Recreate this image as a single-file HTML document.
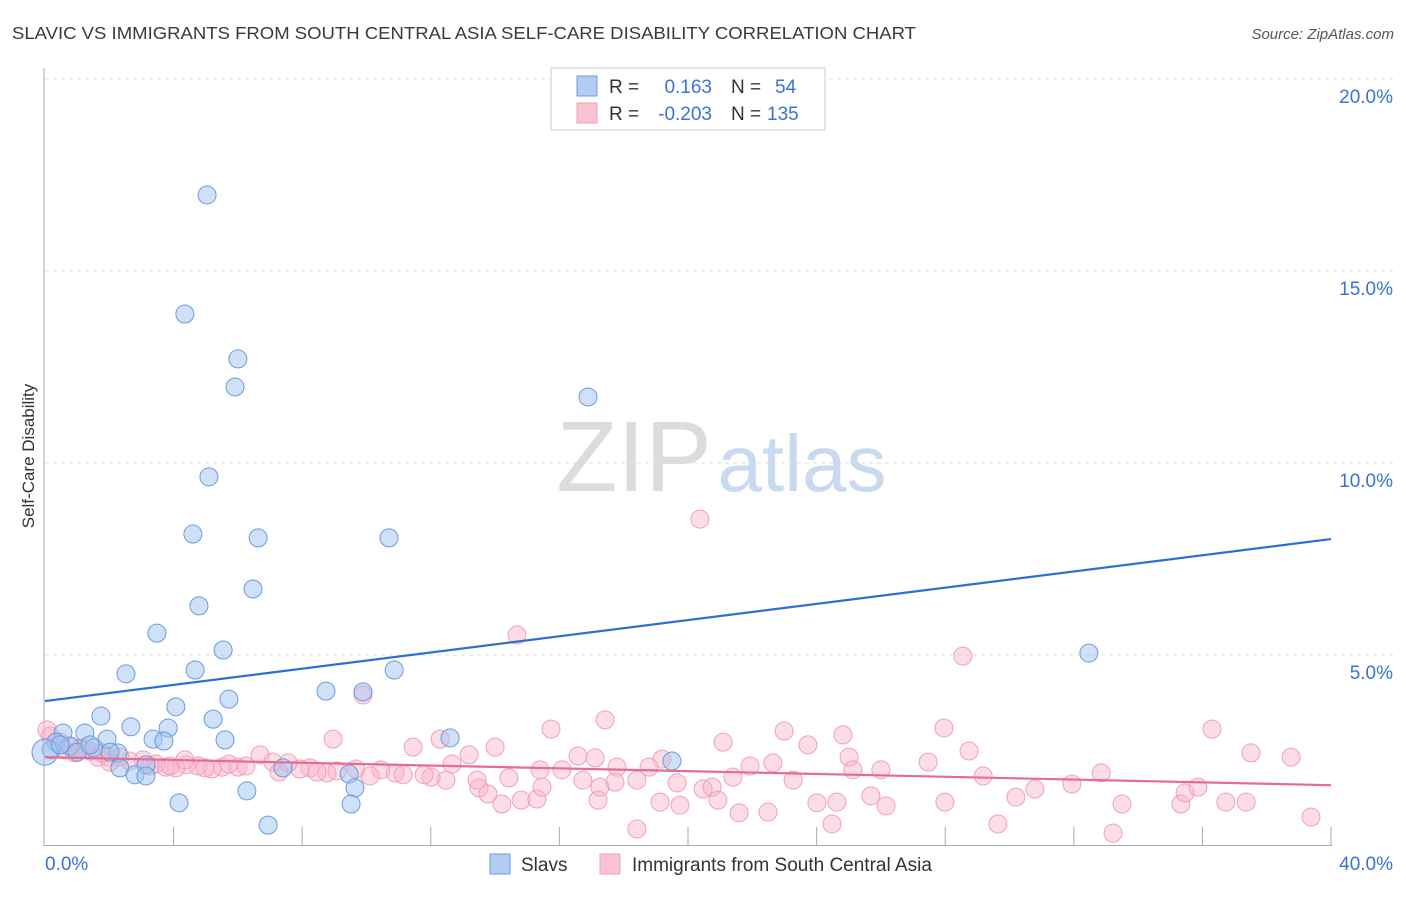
<!DOCTYPE html>
<html><head><meta charset="utf-8"><style>
body{margin:0;background:#fff;font-family:"Liberation Sans",sans-serif;}
svg text{font-family:"Liberation Sans",sans-serif;}
</style></head><body>
<svg id="chart" width="1406" height="892" xmlns="http://www.w3.org/2000/svg">
<text x="12" y="39" font-size="17.5" fill="#3a3a3a" textLength="904" lengthAdjust="spacingAndGlyphs">SLAVIC VS IMMIGRANTS FROM SOUTH CENTRAL ASIA SELF-CARE DISABILITY CORRELATION CHART</text>
<text x="1394" y="39" font-size="15" fill="#555" text-anchor="end" font-style="italic">Source: ZipAtlas.com</text>
<text transform="translate(34,456) rotate(-90)" font-size="17" fill="#333" text-anchor="middle">Self-Care Disability</text>
<g>
<text x="634" y="491" font-size="100" fill="#dcdcdc" font-family="Liberation Serif,serif" text-anchor="middle">ZIP</text>
<text x="802" y="491" font-size="80" fill="#c9daf0" text-anchor="middle">atlas</text>
</g>
<g id="grid"></g><g id="axes"></g><g id="pink"></g><g id="blue"></g><g id="lines"></g>
<g>
<rect x="551" y="68" width="274" height="62" fill="#fff" stroke="#ccc"/>
<rect x="577" y="76" width="20" height="20" fill="#b3cdf2" stroke="#6a9ae0"/>
<rect x="577" y="103" width="20" height="20" fill="#f8c3d3" stroke="#f0a0b8"/>
<text x="609" y="93" font-size="19" fill="#333">R =</text>
<text x="712" y="93" font-size="19" fill="#3a72d8" text-anchor="end">0.163</text>
<text x="731" y="93" font-size="19" fill="#333">N =</text>
<text x="775" y="93" font-size="19" fill="#3a72d8">54</text>
<text x="609" y="120" font-size="19" fill="#333">R =</text>
<text x="712" y="120" font-size="19" fill="#3a72d8" text-anchor="end">-0.203</text>
<text x="731" y="120" font-size="19" fill="#333">N =</text>
<text x="767" y="120" font-size="19" fill="#3a72d8">135</text>
</g>
<g>
<rect x="490" y="854" width="20" height="20" fill="#b3cdf2" stroke="#6a9ae0"/>
<text x="521" y="871" font-size="19" fill="#333">Slavs</text>
<rect x="600" y="854" width="20" height="20" fill="#f8c3d3" stroke="#f0a0b8"/>
<text x="632" y="871" font-size="19" fill="#333">Immigrants from South Central Asia</text>
</g>
</svg>
<script>
const yTicks=[5,10,15,20];
const yTickLabels=["5.0%","10.0%","15.0%","20.0%"];
const xTickVals=[0,4,8,12,16,20,24,28,32,36,40];
const blueX=[5.04,4.35,6.0,5.91,16.89,5.10,4.60,6.63,10.70,6.47,4.79,3.48,5.54,32.47,4.67,2.52,10.86,8.74,9.89,5.72,4.07,1.74,5.23,2.67,3.83,0.56,1.24,3.36,5.60,1.93,3.70,12.60,0.34,0.78,1.52,2.27,0.19,1.0,19.5,2.33,3.14,7.40,9.46,2.80,3.14,6.28,9.64,4.17,9.52,6.94,0.0,0.47,1.40,2.02];
const blueY=[16.98,13.88,12.71,11.98,11.72,9.64,8.15,8.05,8.05,6.72,6.28,5.57,5.13,5.05,4.61,4.51,4.61,4.06,4.04,3.85,3.65,3.41,3.33,3.13,3.10,2.97,2.97,2.81,2.79,2.81,2.76,2.84,2.73,2.63,2.58,2.45,2.53,2.47,2.24,2.06,2.14,2.06,1.90,1.88,1.85,1.46,1.54,1.15,1.12,0.57,2.47,2.66,2.66,2.47];
const pinkX=[20.37,14.68,28.55,9.89,17.42,27.96,36.30,15.74,22.99,24.82,21.09,8.96,23.73,28.74,37.51,38.76,25.01,27.47,11.45,14.0,12.29,13.19,16.58,17.11,19.19,22.64,32.85,31.94,30.79,29.18,26.0,25.13,21.93,21.40,18.79,17.79,16.08,15.40,14.43,12.47,13.50,12.01,10.89,10.45,9.67,8.77,8.24,7.93,6.69,7.09,7.56,6.0,5.51,5.19,4.76,4.39,4.07,3.76,3.45,3.05,2.64,2.33,1.99,1.65,1.40,1.09,0.78,0.47,0.16,0.06,0.62,0.93,1.24,1.77,2.02,3.27,3.89,4.35,4.98,5.72,6.25,7.28,8.46,9.08,10.11,11.14,11.79,12.66,13.44,13.78,14.21,14.81,15.30,15.46,16.73,17.26,17.73,18.41,19.13,19.66,19.75,20.47,20.75,20.93,21.59,22.49,23.27,24.01,24.48,24.63,25.69,26.16,27.99,29.64,30.20,33.50,33.22,35.33,35.46,35.86,36.73,37.36,39.38,18.41,17.20];
const pinkY=[8.54,5.52,4.97,3.96,3.31,3.10,3.07,3.07,3.02,2.92,2.73,2.81,2.66,2.50,2.45,2.34,2.34,2.21,2.60,2.60,2.81,2.40,2.37,2.32,2.29,2.19,1.93,1.64,1.51,1.85,2.01,2.01,2.11,1.82,2.08,2.08,2.01,2.01,1.80,1.74,1.54,1.82,1.93,2.01,2.03,1.93,2.06,2.03,2.40,2.21,2.19,2.08,2.08,2.03,2.11,2.14,2.06,2.08,2.16,2.27,2.24,2.34,2.34,2.34,2.50,2.58,2.60,2.73,2.89,3.05,2.53,2.45,2.58,2.45,2.21,2.11,2.11,2.27,2.06,2.16,2.11,1.95,1.95,1.98,1.85,1.88,1.88,2.16,1.74,1.38,1.12,1.22,1.25,1.56,1.74,1.56,1.69,1.74,1.17,1.67,1.09,1.51,1.56,1.22,0.89,0.91,1.74,1.15,0.60,1.17,1.33,1.07,1.17,0.60,1.30,1.12,0.36,1.12,1.41,1.56,1.17,1.17,0.78,0.47,1.22];
const blueTrend=[3.80,8.02];
const pinkTrend=[2.34,1.61];

const NS="http://www.w3.org/2000/svg";
const X=v=>45+v/40*1286;
const Y=v=>847-v*38.4;
function mk(tag,attrs,parent){const e=document.createElementNS(NS,tag);for(const k in attrs)e.setAttribute(k,attrs[k]);parent.appendChild(e);return e;}
const grid=document.getElementById('grid'),axes=document.getElementById('axes');
yTicks.forEach((t,i)=>{
 const l=mk('line',{x1:45,x2:1393,y1:Y(t),y2:Y(t),stroke:'#ddd','stroke-dasharray':'4,4'},grid);
 
 
 const tx=mk('text',{x:1393,y:Y(t)+24,'font-size':19,fill:'#3a72d8','text-anchor':'end'},axes);
 tx.textContent=yTickLabels[i];
 
 
});
const ya=mk('line',{x1:44,x2:44,y1:68,y2:846,stroke:'#aaa'},axes);


const xa=mk('line',{x1:44,x2:1332,y1:845.5,y2:845.5,stroke:'#aaa'},axes);


xTickVals.forEach(t=>{
 if(t===0)return;
 const l=mk('line',{x1:X(t),x2:X(t),y1:827,y2:845,stroke:'#aaa'},axes);
 
 
});
const x0=mk('text',{x:45,y:870,'font-size':19,fill:'#3a72d8'},axes);x0.textContent='0.0%';


const x1=mk('text',{x:1393,y:870,'font-size':19,fill:'#3a72d8','text-anchor':'end'},axes);x1.textContent='40.0%';


const pg=document.getElementById('pink');
pinkX.forEach((v,i)=>{
 const c=mk('circle',{cx:X(v),cy:Y(pinkY[i]),r:9,fill:'rgba(248,180,200,0.45)',stroke:'#f0a0b8','stroke-width':1},pg);
 
 
});
const bg=document.getElementById('blue');
blueX.forEach((v,i)=>{
 const c=mk('circle',{cx:X(v),cy:Y(blueY[i]),r:(i===50?13:9),fill:'rgba(160,196,240,0.5)',stroke:'#6a9ae0','stroke-width':1},bg);
 
 
});
const lg=document.getElementById('lines');
const bl=mk('line',{x1:X(0),y1:Y(blueTrend[0]),x2:X(40),y2:Y(blueTrend[1]),stroke:'#2a6fd6','stroke-width':2.2},lg);


const pl=mk('line',{x1:X(0),y1:Y(pinkTrend[0]),x2:X(40),y2:Y(pinkTrend[1]),stroke:'#e86a92','stroke-width':2.2},lg);


</script>
</body></html>
